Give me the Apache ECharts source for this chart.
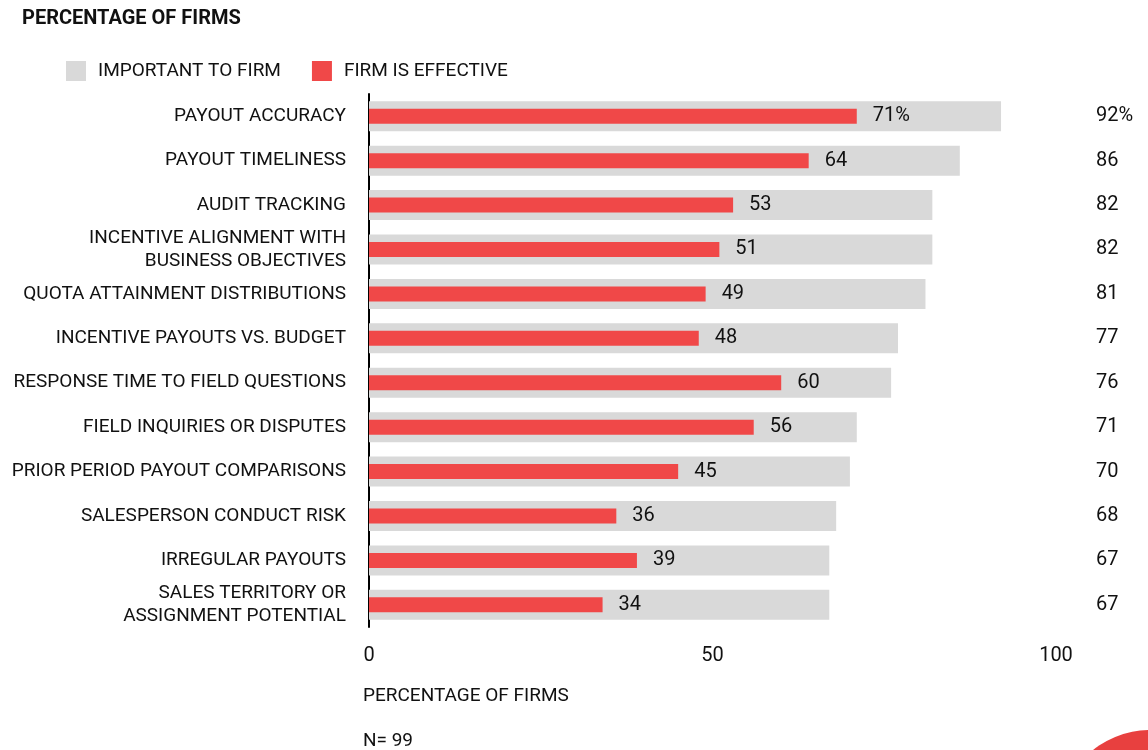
<!DOCTYPE html>
<html>
<head>
<meta charset="utf-8">
<script src="https://cdn.jsdelivr.net/npm/echarts@6/dist/echarts.min.js"></script>
<style>
  html, body { margin: 0; padding: 0; background: #fff; }
  #chart { width: 1148px; height: 750px; }
</style>
</head>
<body>
<div id="chart"></div>
<script>
// Categories, top to bottom
const categories = [
  'PAYOUT ACCURACY',
  'PAYOUT TIMELINESS',
  'AUDIT TRACKING',
  'INCENTIVE ALIGNMENT WITH\nBUSINESS OBJECTIVES',
  'QUOTA ATTAINMENT DISTRIBUTIONS',
  'INCENTIVE PAYOUTS VS. BUDGET',
  'RESPONSE TIME TO FIELD QUESTIONS',
  'FIELD INQUIRIES OR DISPUTES',
  'PRIOR PERIOD PAYOUT COMPARISONS',
  'SALESPERSON CONDUCT RISK',
  'IRREGULAR PAYOUTS',
  'SALES TERRITORY OR\nASSIGNMENT POTENTIAL'
];
// Share of firms rating the area important
const importantToFirm = [92, 86, 82, 82, 81, 77, 76, 71, 70, 68, 67, 67];
// Share of firms that are effective at it
const firmIsEffective = [71, 64, 53, 51, 49, 48, 60, 56, 45, 36, 39, 34];
const xTicks = [0, 50, 100];

const FONT = "Roboto, sans-serif";
const FS = 19;      // words
const NUM_FS = 20;  // figures
const INK = '#111111';
const GRAY = '#d9d9d9';
const RED = '#f04848';

const chart = echarts.init(document.getElementById('chart'));
chart.setOption({
  animation: false,
  textStyle: { fontFamily: FONT, color: INK },
  title: [
    { text: 'PERCENTAGE OF FIRMS', left: 22, top: 9, padding: 0,
      textStyle: { fontFamily: FONT, fontSize: 20, fontWeight: 'bold', color: INK } },
    { text: 'PERCENTAGE OF FIRMS', left: 363, top: 687, padding: 0,
      textStyle: { fontFamily: FONT, fontSize: FS, fontWeight: 'normal', color: INK } },
    { text: 'N= 99', left: 363, top: 732, padding: 0,
      textStyle: { fontFamily: FONT, fontSize: FS, fontWeight: 'normal', color: INK } }
  ],
  legend: {
    left: 66, top: 61, padding: 0,
    itemWidth: 20, itemHeight: 20, itemGap: 31,
    icon: 'rect',
    textStyle: { fontFamily: FONT, fontSize: FS, color: INK, padding: [0, 0, 0, 7] },
    data: ['IMPORTANT TO FIRM', 'FIRM IS EFFECTIVE']
  },
  grid: { left: 369, right: 92, top: 94, bottom: 123, outerBoundsMode: 'none', containLabel: false },
  xAxis: {
    type: 'value', min: xTicks[0], max: xTicks[xTicks.length - 1], interval: 50,
    axisLine: { show: false }, axisTick: { show: false }, splitLine: { show: false },
    axisLabel: { fontFamily: FONT, fontSize: NUM_FS, color: INK, margin: 19 }
  },
  yAxis: [
    {
      type: 'category', data: categories, inverse: true,
      axisLine: { show: true, lineStyle: { color: '#000', width: 2 } },
      axisTick: { show: false },
      axisLabel: { fontFamily: FONT, fontSize: FS, color: INK, margin: 23, lineHeight: 23, align: 'right' }
    },
    {
      // right-hand column: the "important" values
      type: 'category', data: importantToFirm.map((v, i) => i === 0 ? v + '%' : String(v)),
      inverse: true, position: 'right',
      axisLine: { show: false }, axisTick: { show: false },
      axisLabel: { fontFamily: FONT, fontSize: NUM_FS, color: INK, margin: 40, align: 'left',
                   padding: [9, 0, 0, 0] }
    }
  ],
  series: [
    {
      name: 'IMPORTANT TO FIRM', type: 'bar', data: importantToFirm,
      yAxisIndex: 0, barWidth: 30,
      itemStyle: { color: GRAY }
    },
    {
      // on the second category axis so it centres inside the gray bar
      name: 'FIRM IS EFFECTIVE', type: 'bar', data: firmIsEffective,
      yAxisIndex: 1, barWidth: 15,
      itemStyle: { color: RED },
      label: {
        show: true, position: 'right', distance: 16,
        fontFamily: FONT, fontSize: NUM_FS, color: INK,
        formatter: p => p.dataIndex === 0 ? p.value + '%' : String(p.value)
      }
    }
  ],
  graphic: [
    { type: 'circle', shape: { cx: 1150, cy: 821, r: 91 }, style: { fill: '#e8403f' }, silent: true }
  ]
});
</script>
</body>
</html>
